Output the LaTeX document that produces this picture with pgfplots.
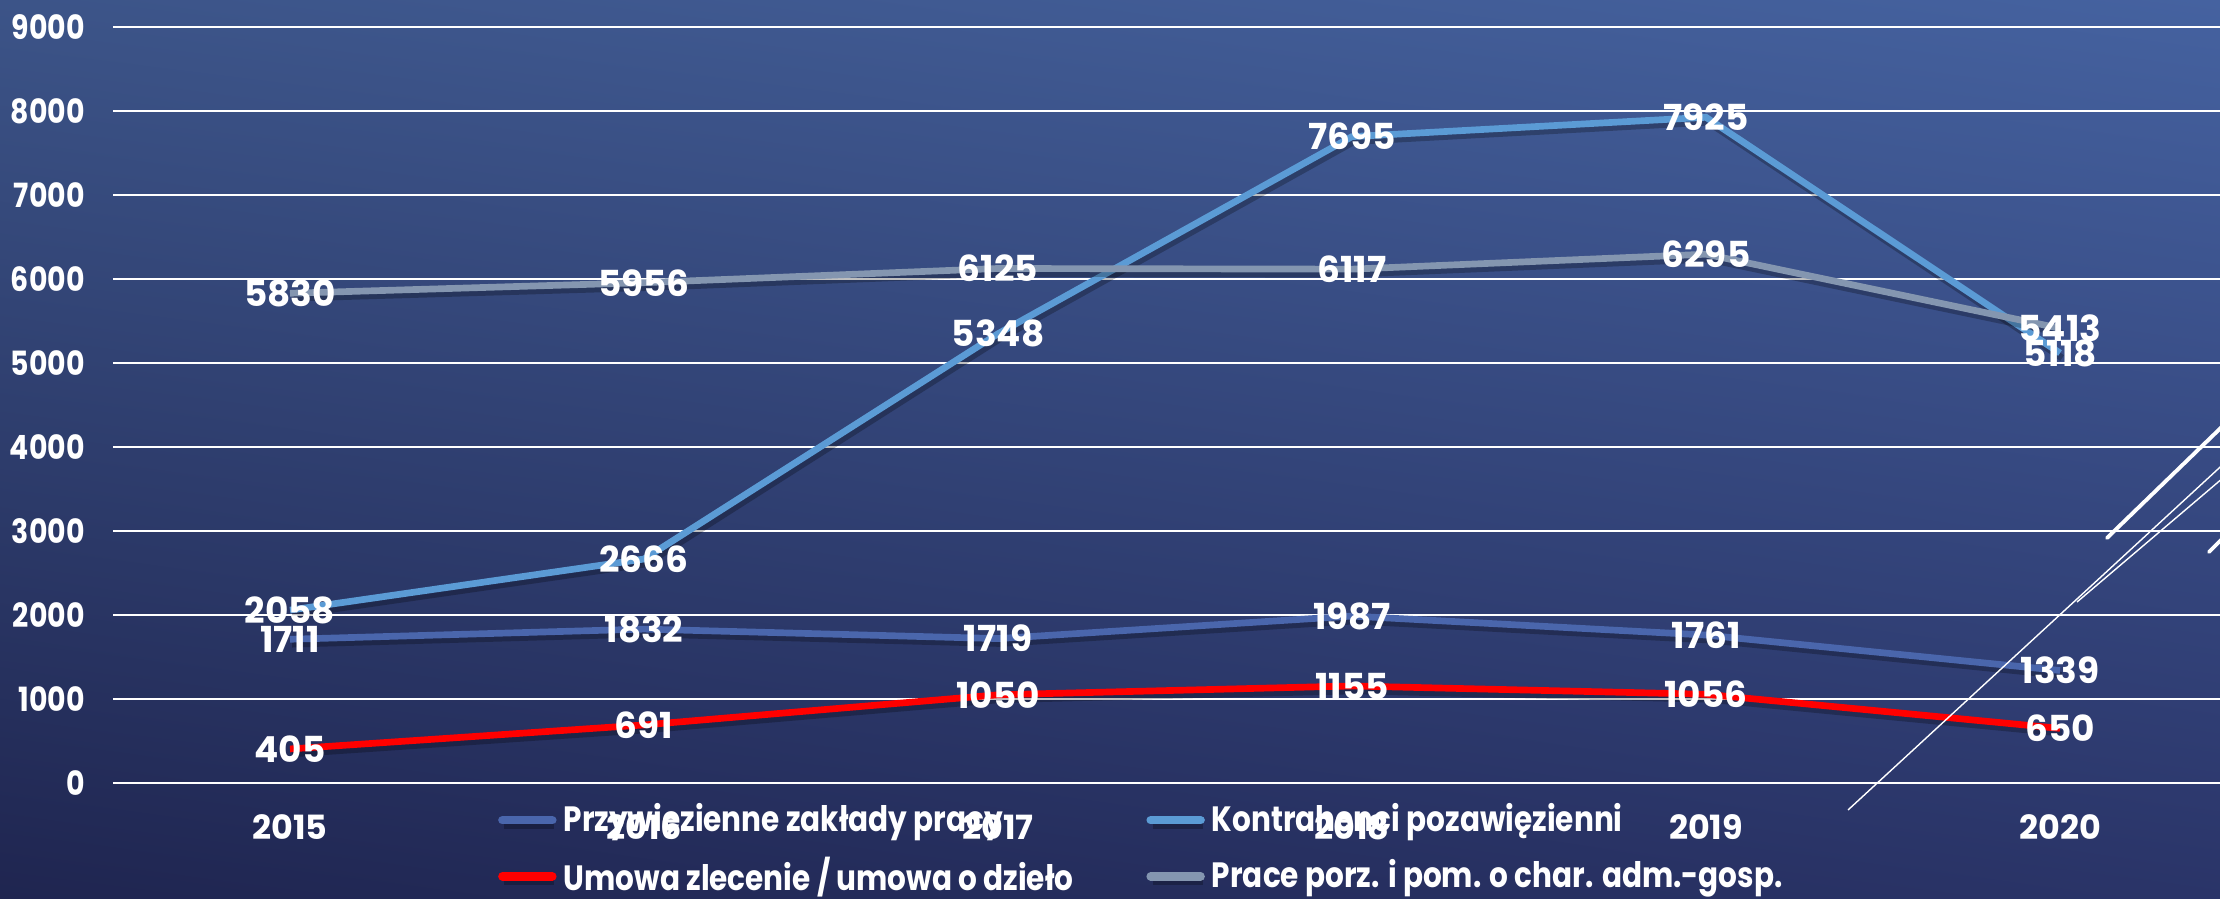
\documentclass[border=0pt]{standalone}
\usepackage{fontspec}
\setmainfont{Poppins}
\usepackage{pgfplots}
\pgfplotsset{compat=1.18}
\usetikzlibrary{shadings}

\definecolor{bgTL}{HTML}{3C5488}
\definecolor{bgTR}{HTML}{4562A0}
\definecolor{bgBL}{HTML}{1F2550}
\definecolor{bgBR}{HTML}{2A3468}
\definecolor{przyw}{HTML}{4A66AC}
\definecolor{kontr}{HTML}{5B9BD5}
\definecolor{umowa}{HTML}{FF0000}
\definecolor{prace}{HTML}{8496B0}

\newcommand{\cond}[1]{\scalebox{0.84}[1]{#1}}

\begin{document}
\begin{tikzpicture}[x=1cm,y=1cm]
\useasboundingbox (0,0) rectangle (22.2,8.99);
\shade[upper left=bgTL, upper right=bgTR, lower left=bgBL, lower right=bgBR]
  (0,0) rectangle (22.2,8.99);
\begin{scope}
\clip (0,0) rectangle (22.2,8.99);
\begin{axis}[
  at={(1.13cm,1.16cm)}, anchor=south west,
  scale only axis, width=21.24cm, height=7.56cm,
  xmin=-0.5, xmax=5.5, ymin=0, ymax=9000,
  xtick={0,1,2,3,4,5},
  xticklabels={2015,2016,2017,2018,2019,2020},
  ytick={0,1000,...,9000},
  yticklabel={\scalebox{0.85}[1]{\pgfmathprintnumber[assume math mode=true, 1000 sep={}]{\tick}}},
  axis line style={draw=none}, tick style={draw=none},
  ymajorgrids=true, grid style={white, line width=0.6pt},
  ticklabel style={font=\fontsize{9.5}{11}\selectfont\bfseries, text=white},
  xticklabel style={anchor=center, yshift=-0.44cm},
  yticklabel style={anchor=east, xshift=-0.16cm},
  every axis plot/.append style={line width=1.9pt,
    preaction={draw, black, opacity=0.25, transform canvas={xshift=0.6pt, yshift=-1.4pt}}},
  nodes near coords,
  /pgf/number format/1000 sep={},
  /pgf/number format/assume math mode=true,
  every node near coord/.append style={anchor=center, text=white,
    font=\fontsize{10.2}{12}\selectfont\bfseries},
  legend columns=2,
  legend cell align=left,
  legend style={at={(axis description cs:0.181,-0.017)}, anchor=north west,
    draw=none, fill=none, inner sep=0pt, text=white,
    font=\fontsize{10}{12}\selectfont\bfseries,
    row sep=0.06cm,
    /tikz/every even column/.append style={column sep=0.66cm}},
  legend image code/.code={\draw[#1, line width=2.4pt, line cap=round, preaction={}]
    (0cm,0cm) -- (0.5cm,0cm);},
]
\addplot[przyw] coordinates {(0,1711)(1,1832)(2,1719)(3,1987)(4,1761)(5,1339)};
\addlegendentry{\cond{Przywięzienne zakłady pracy}}
\addplot[kontr] coordinates {(0,2058)(1,2666)(2,5348)(3,7695)(4,7925)(5,5118)};
\addlegendentry{\cond{Kontrahenci pozawięzienni}}
\addplot[umowa] coordinates {(0,405)(1,691)(2,1050)(3,1155)(4,1056)(5,650)};
\addlegendentry{\cond{Umowa zlecenie / umowa o dzieło}}
\addplot[prace] coordinates {(0,5830)(1,5956)(2,6125)(3,6117)(4,6295)(5,5413)};
\addlegendentry{\cond{Prace porz. i pom. o char. adm.-gosp.}}
\end{axis}
\end{scope}
% decorative strokes, bottom right
\draw[white, line width=1.1pt, line cap=round] (21.07,3.61) -- (22.3,4.80);
\draw[white, line width=1.1pt, line cap=round] (22.09,3.47) -- (22.3,3.68);
\draw[white, line width=0.4pt] (18.48,0.89) -- (22.3,4.41);
\draw[white, line width=0.4pt] (20.77,2.97) -- (22.3,4.27);
\end{tikzpicture}
\end{document}
